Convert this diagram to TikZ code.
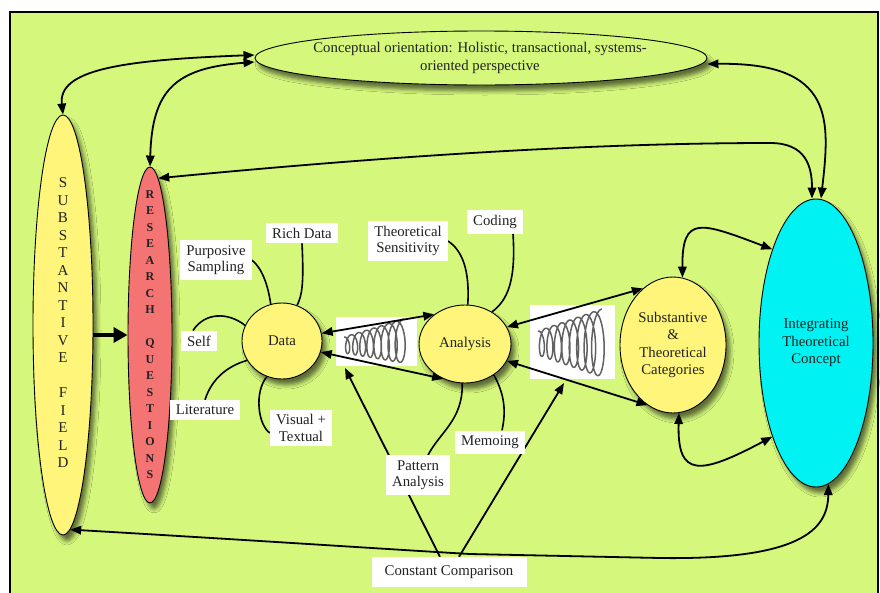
\documentclass[tikz,border=0pt]{standalone}
\usepackage{fontspec}
\setmainfont{Liberation Serif}
\usetikzlibrary{arrows.meta,shapes.geometric,shadows.blur}
\pgfdeclarelayer{backdrop}
\pgfdeclarelayer{edges}
\pgfsetlayers{backdrop,edges,main}

\definecolor{meadow}{HTML}{D4F77C}
\definecolor{butter}{HTML}{FFF57A}
\definecolor{salmon}{HTML}{F47474}
\definecolor{aqua}{HTML}{00F2F2}
\definecolor{ink}{HTML}{222222}

\tikzset{
  blob/.style={ellipse, draw=black, line width=0.9pt, inner sep=0pt, text=ink, align=center,
    font=\fontsize{14.8}{17.6}\selectfont,
    blur shadow={shadow xshift=4pt, shadow yshift=-6pt, shadow opacity=55, shadow blur radius=4pt}},
  blobtext/.style={text=ink, align=center, inner sep=0pt},
  tag/.style={fill=white, inner xsep=6pt, inner ysep=5pt, text=ink, align=center,
    font=\fontsize{14.8}{16.5}\selectfont},
  link/.style={line width=1.8pt, draw=black},
  tipA/.tip={Triangle[length=11pt,width=8.5pt]},
  twoway/.style={link, tipA-tipA},
  oneway/.style={link, -tipA},
  spoke/.style={line width=1.6pt, draw=black},
  coil/.style={draw=black!62, line width=1.5pt},
  springbox/.style={fill=white, inner sep=0pt},
}

\begin{document}
\begin{tikzpicture}[x=1pt,y=-1pt]
\useasboundingbox (0,0) rectangle (880,592);

% main shapes
\node[blob, fill=meadow, minimum width=452pt, minimum height=54pt] (concept) at (481,58) {};
\node[blobtext, font=\fontsize{14.8}{18}\selectfont] (concepttext) at (480,58)
  {Conceptual orientation: Holistic, transactional, systems-\\oriented perspective};

\node[blob, fill=butter, minimum width=60pt, minimum height=420pt] (field) at (63,325) {};
\node[blobtext, font=\fontsize{15}{17.5}\selectfont] (fieldtext) at (63,323)
  {S\\U\\B\\S\\T\\A\\N\\T\\I\\V\\E\\[17.5pt]F\\I\\E\\L\\D};

\node[blob, fill=salmon, minimum width=44pt, minimum height=336pt] (rq) at (150,335) {};
\node[blobtext, font=\fontsize{12}{16.5}\selectfont\bfseries] (rqtext) at (150,334.5)
  {R\\E\\S\\E\\A\\R\\C\\H\\[16.5pt]Q\\U\\E\\S\\T\\I\\O\\N\\S};

\node[blob, fill=butter, minimum width=80pt, minimum height=76pt] (data) at (282,341) {Data};
\node[blob, fill=butter, minimum width=92pt, minimum height=78pt] (analysis) at (465,344) {Analysis};
\node[blob, fill=butter, minimum width=106pt, minimum height=136pt] (cats) at (673,345)
  {Substantive\\\&\\Theoretical\\Categories};
\node[blob, fill=aqua, minimum width=114pt, minimum height=288pt] (itc) at (816,343)
  {Integrating\\Theoretical\\Concept};

% labels
\node[tag] (ps) at (216,260) {Purposive\\Sampling};
\node[tag] (rd) at (302,233) {Rich Data};
\node[tag] (self) at (199,341) {Self};
\node[tag] (lit) at (205,410) {Literature};
\node[tag] (vt) at (301,428) {Visual +\\Textual};
\node[tag] (ts) at (408,241) {Theoretical\\Sensitivity};
\node[tag] (cod) at (495,222) {Coding};
\node[tag] (pa) at (418,475) {Pattern\\Analysis};
\node[tag] (mem) at (490,442) {Memoing};
\node[tag, minimum width=155pt, minimum height=30pt] (cc) at (449,572) {Constant Comparison};

\coordinate (fold1) at (345,368);
\coordinate (fold2) at (564,383);

\begin{pgfonlayer}{backdrop}
  \fill[white] (0,0) rectangle (880,592);
  \draw[fill=meadow, line width=1.5pt] (10,12) rectangle (878,610);
  % springs between the stages (u runs over the whole coil, 8 turns)
  \node[springbox, minimum width=81pt, minimum height=49pt] (spr1) at (376.5,341.5) {};
  \node[springbox, minimum width=85pt, minimum height=74pt] (spr2) at (572.5,342) {};
  \draw[coil] plot[domain=0:1, samples=600, variable=\u]
    ({344 + 60*\u + (3.5+3.5*\u)*sin(2880*\u)}, {345 - 4*\u - (8+14*\u)*cos(2880*\u)});
  \draw[coil] plot[domain=0:1, samples=600, variable=\u]
    ({538 + 64*\u + (4+4.5*\u)*sin(2880*\u)}, {343 - (12+22*\u)*cos(2880*\u)});
\end{pgfonlayer}

\begin{pgfonlayer}{edges}
  % cycle between data, analysis and categories
  \draw[twoway] (data.11) -- (analysis.136);
  \draw[twoway] (data.-16) -- (analysis.238);
  \draw[twoway] (analysis.22) -- (cats.118);
  \draw[twoway] (analysis.-22) -- (cats.247);
  \draw[twoway] (cats.82) .. controls (682,215) and (700,222) .. (itc.115);
  \draw[twoway] (cats.-85) .. controls (677,478) and (700,475) .. (itc.245);

  % orientation links
  \draw[twoway] (field.north) .. controls (58,70) and (120,60) .. ([yshift=3pt]concept.west);
  \draw[twoway] (rq.north) .. controls (152,90) and (175,68) .. ([yshift=-4pt]concept.west);
  \draw[twoway] ([yshift=-6pt]concept.east) .. controls (835,62) and (830,120) .. ([xshift=5pt]itc.north);
  \draw[twoway] (rq.87) .. controls (400,155) and (600,143) .. (770,143)
    .. controls (805,143) and (812,165) .. ([xshift=-4pt]itc.north);

  % bottom loop
  \draw[twoway] (field.-88) .. controls (250,540) and (400,550) .. (470,554) -- (660,558)
    .. controls (800,560) and (828,530) .. (itc.-85);

  % constant comparison
  \draw[oneway] ([xshift=-9pt]cc.north) -- (fold1);
  \draw[oneway] ([xshift=10pt]cc.north) -- (fold2);

  % field to research questions
  \draw[line width=4pt, -{Triangle[length=14pt,width=15pt]}] (field.east |- rq.west) -- (rq.west);

  % spokes around data
  \draw[spoke] (ps.east) .. controls (262,268) and (268,285) .. (data.107);
  \draw[spoke] (rd.south) .. controls (304,285) and (302,295) .. (data.67);
  \draw[spoke] ([xshift=-6pt]self.north) .. controls (205,312) and (228,312) .. (data.157);
  \draw[spoke] (lit.north) .. controls (212,378) and (228,366) .. (data.209);
  \draw[spoke] (data.247) .. controls (254,392) and (258,425) .. ([yshift=-5pt]vt.west);

  % spokes around analysis
  \draw[spoke] (ts.east) .. controls (462,250) and (470,270) .. (analysis.86);
  \draw[spoke] ([xshift=18pt]cod.south) .. controls (516,280) and (508,300) .. (analysis.50);
  \draw[spoke] (analysis.266) .. controls (463,420) and (440,432) .. ([xshift=10pt]pa.north);
  \draw[spoke] (analysis.313) .. controls (505,395) and (506,412) .. ([xshift=12pt]mem.north);
\end{pgfonlayer}
\end{tikzpicture}
\end{document}
